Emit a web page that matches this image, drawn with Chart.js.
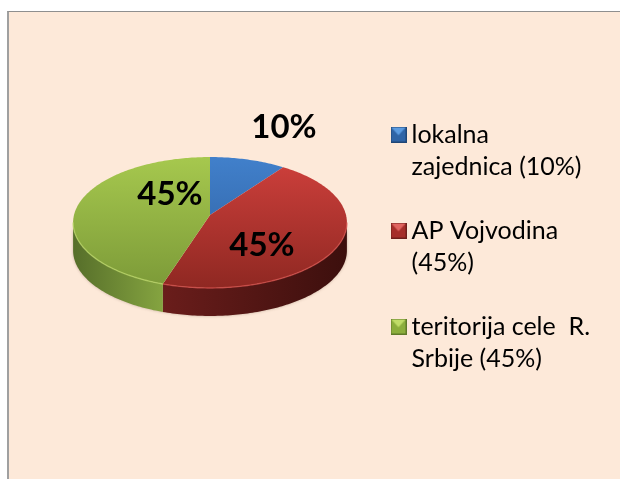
<!DOCTYPE html>
<html>
<head>
<meta charset="utf-8">
<script src="https://cdn.jsdelivr.net/npm/chart.js@4"></script>
<style>
html,body{margin:0;padding:0;background:#fff;overflow:hidden;width:620px;height:479px}
#panel{position:absolute;left:7px;top:11px;right:0;bottom:0;background:#fde9d9;border-left:2px solid #a0a0a0;border-top:1px solid #8f8f8f}
canvas{position:absolute;left:0;top:0}
</style>
</head>
<body>
<div id="panel"></div>
<canvas id="c" width="620" height="479"></canvas>
<script>
const categories = ['lokalna zajednica (10%)', 'AP Vojvodina (45%)', 'teritorija cele  R. Srbije (45%)'];
const legendLines = [['lokalna', 'zajednica (10%)'], ['AP Vojvodina', '(45%)'], ['teritorija cele  R.', 'Srbije (45%)']];
const shares = [10, 45, 45];
const baseColors = ['#3a72b8', '#b5322f', '#8fb13f'];
const topShades = [['#4180cb', '#2c5c9b'], ['#cf403c', '#8f2822'], ['#a6c84e', '#7c9a38']];
const rimShades = ['#5b93d6', '#d9534f', '#bcd96a'];
const wallShades = [['#1c3a60', '#1c3a60'], ['#3c0f0d', '#6a1d1b'], ['#85a440', '#566e2a']];
const legendShades = [['#5b9be0', '#2f64a6', '#1f4677'], ['#e06460', '#a52e2a', '#6f1e1b'], ['#c0dc68', '#8cae3c', '#5f7a28']];
const labelOffsets = [[74, -88], [52, 30], [-40, -21]];

const tilt = 0.475, persp = 0.1146, depth = 28;

function project(a, el) {
  const u = Math.cos(a), v = -Math.sin(a), w = 1 + persp * v, R = el.outerRadius;
  return [el.x + R * u / w, el.y - R * tilt * v / w];
}
function rimPath(ctx, a0, a1, el, dy, move) {
  const n = Math.max(2, Math.ceil(Math.abs(a1 - a0) * 60));
  for (let i = 0; i <= n; i++) {
    const p = project(a0 + (a1 - a0) * i / n, el);
    if (i === 0 && move) ctx.moveTo(p[0], p[1] + dy); else ctx.lineTo(p[0], p[1] + dy);
  }
}
const wallFrom = Math.asin(persp), wallTo = Math.PI - wallFrom;

const pie3d = {
  id: 'pie3d',
  afterLayout(chart) {
    const lg = chart.legend;
    lg.left = 366; lg.top = 90; lg.bottom += 90;
  },
  beforeDatasetDraw(chart, args) {
    const ctx = chart.ctx, arcs = args.meta.data;
    ctx.save();
    ctx.shadowColor = 'rgba(90,60,40,0.35)';
    ctx.shadowBlur = 3;
    ctx.lineJoin = 'round';
    arcs.forEach((el, i) => {
      const a0 = Math.max(el.startAngle, wallFrom), a1 = Math.min(el.endAngle, wallTo);
      if (a1 <= a0) return;
      const p0 = project(a0, el), p1 = project(a1, el);
      const g = ctx.createLinearGradient(p0[0], 0, p1[0], 0);
      g.addColorStop(0, wallShades[i][0]);
      g.addColorStop(1, wallShades[i][1]);
      ctx.beginPath();
      rimPath(ctx, a0, a1, el, 0, true);
      rimPath(ctx, a1, a0, el, depth, false);
      ctx.closePath();
      ctx.fillStyle = g;
      ctx.fill();
    });
    ctx.shadowBlur = 0;
    arcs.forEach((el, i) => {
      const top = el.y - el.outerRadius * tilt / (1 + persp);
      const bottom = el.y + el.outerRadius * tilt / (1 - persp);
      const g = ctx.createLinearGradient(0, top, 0, bottom);
      g.addColorStop(0, topShades[i][0]);
      g.addColorStop(1, topShades[i][1]);
      ctx.beginPath();
      ctx.moveTo(el.x, el.y);
      rimPath(ctx, el.startAngle, el.endAngle, el, 0, false);
      ctx.closePath();
      ctx.fillStyle = g;
      ctx.fill();
      const a0 = Math.max(el.startAngle, wallFrom), a1 = Math.min(el.endAngle, wallTo);
      if (a1 > a0) {
        ctx.beginPath();
        rimPath(ctx, a0, a1, el, 0, true);
        ctx.strokeStyle = rimShades[i];
        ctx.globalAlpha = 0.7;
        ctx.lineWidth = 1.4;
        ctx.stroke();
        ctx.globalAlpha = 1;
      }
    });
    ctx.restore();
    return false;
  },
  afterDatasetsDraw(chart) {
    const ctx = chart.ctx, arcs = chart.getDatasetMeta(0).data;
    ctx.save();
    ctx.font = 'bold 33px Lato';
    ctx.fillStyle = '#000';
    ctx.textAlign = 'center';
    ctx.textBaseline = 'middle';
    const total = shares.reduce((s, v) => s + v, 0);
    arcs.forEach((el, i) => {
      ctx.fillText(Math.round(shares[i] / total * 100) + '%', el.x + labelOffsets[i][0], el.y + labelOffsets[i][1]);
    });
    ctx.restore();
  }
};

function legendSwatch(c) {
  const s = 16, k = document.createElement('canvas');
  k.width = k.height = s;
  const x = k.getContext('2d');
  x.fillStyle = c[1]; x.fillRect(0, 0, s, s);
  x.fillStyle = c[0];
  x.beginPath(); x.moveTo(0, 0); x.lineTo(s, 0); x.lineTo(s / 2, s * 0.55); x.closePath(); x.fill();
  x.strokeStyle = c[2]; x.lineWidth = 1; x.strokeRect(0.5, 0.5, s - 1, s - 1);
  return k;
}
const swatches = legendShades.map(legendSwatch);

new Chart(document.getElementById('c'), {
  type: 'pie',
  data: { labels: categories, datasets: [{ data: shares, backgroundColor: baseColors, borderWidth: 0, radius: 136 }] },
  options: {
    responsive: false,
    animation: false,
    layout: { padding: { left: 28, top: 0, right: 0, bottom: 49 } },
    plugins: {
      tooltip: { enabled: false },
      legend: {
        position: 'right',
        align: 'start',
        maxWidth: 228,
        labels: {
          usePointStyle: true,
          boxWidth: 1,
          boxHeight: 9,
          padding: 32,
          color: '#000',
          font: { family: 'Lato', size: 25, lineHeight: 32 / 25 },
          generateLabels: () => legendLines.map((t, i) => ({
            text: t, fillStyle: baseColors[i], strokeStyle: baseColors[i], lineWidth: 0,
            pointStyle: swatches[i], hidden: false, index: i
          }))
        }
      }
    }
  },
  plugins: [pie3d]
});
</script>
</body>
</html>
